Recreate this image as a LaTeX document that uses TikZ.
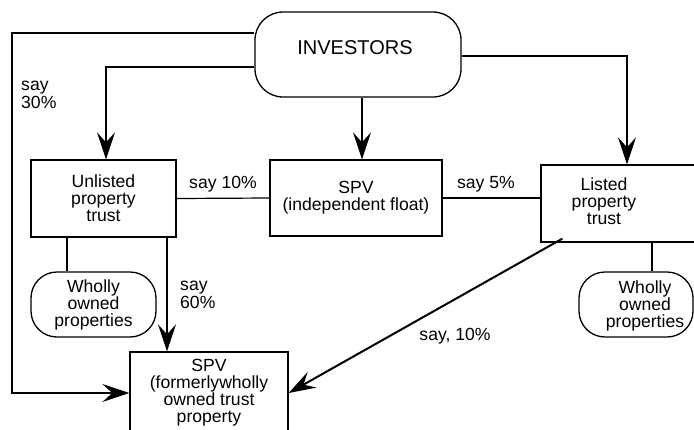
\documentclass[tikz,border=0pt]{standalone}
\usepackage{fontspec}
\setmainfont{Liberation Sans}
\usetikzlibrary{arrows.meta}
\begin{document}
\begin{tikzpicture}[x=1pt,y=-1pt,
  txt/.style={font=\fontsize{17.6}{17}\selectfont, align=center, inner sep=0pt},
  lbl/.style={font=\fontsize{17.6}{18}\selectfont, inner sep=0pt},
  sqbox/.style={draw, line width=1.3pt, rectangle, inner sep=0pt},
  rbox/.style={draw, line width=1.3pt, rectangle, rounded corners=26pt, inner sep=0pt},
  conn/.style={line width=1.2pt},
  arr/.style={line width=1.2pt, -{Stealth[length=27pt,width=18pt,inset=10pt]}},
  darr/.style={line width=2pt, -{Stealth[length=27pt,width=18pt,inset=10pt]}}]
\useasboundingbox (0,0) rectangle (694,429);
\clip (0,0) rectangle (694,429);
% boxes
\node[rbox, rounded corners=28pt, minimum width=206pt, minimum height=85pt] (inv) at (358,54.5) {};
\node[txt, font=\fontsize{20}{20}\selectfont] (invt) at (355,47.5) {INVESTORS};
\node[sqbox, txt, minimum width=145pt, minimum height=77pt] (unl) at (103.5,198.5) {Unlisted\\property\\trust};
\node[sqbox, txt, minimum width=172pt, minimum height=76pt] (spvf) at (356,198) {SPV\\(independent float)};
\node[sqbox, minimum width=159pt, minimum height=77pt] (lst) at (620.5,203.5) {};
\node[txt] (lstt) at (604,201) {Listed\\property\\trust};
\node[rbox, txt, minimum width=125pt, minimum height=65pt] (wol) at (93.5,304.5) {Wholly\\owned\\properties};
\node[rbox, minimum width=114pt, minimum height=65pt] (wor) at (636,304.5) {};
\node[txt] (wort) at (645,306) {Wholly\\owned\\properties};
\node[sqbox, txt, minimum width=158pt, minimum height=82pt] (spv2) at (209,393) {SPV\\(formerlywholly\\owned trust\\property};
% connectors
\coordinate (lft) at (12,393);
\draw[arr] ([yshift=21.5pt]inv.west) -| (lft) -- (spv2.west);
\draw[arr] ([yshift=-12.5pt]inv.west) -| ([xshift=2.5pt]unl.north);
\draw[arr] ([xshift=4pt]inv.south) -- ([xshift=4pt]inv.south |- spvf.north);
\draw[arr] ([yshift=-1.5pt]inv.east) -| ([xshift=6.5pt]lst.north);
\draw[conn] (unl.east) -- (spvf.west);
\draw[conn] (spvf.east) -- (spvf.east -| lst.west);
\draw[conn] ([xshift=-36.5pt]unl.south) -- ([xshift=-36.5pt]unl.south |- wol.north);
\draw[arr] ([xshift=63.5pt]unl.south) -- ([xshift=63.5pt]unl.south |- spv2.north);
\draw[darr] ([xshift=22pt,yshift=4pt]lst.south west) -- (spv2.east);
\draw[conn] ([xshift=31.5pt]lst.south) -- ([xshift=31.5pt]lst.south |- wor.north);
% labels
\node[lbl, align=left, anchor=west] (l30) at (21,95) {say\\30\%};
\node[lbl, align=left, anchor=west] (l60) at (180,295) {say\\60\%};
\node[lbl, anchor=base] (l10) at (223,188) {say 10\%};
\node[lbl, anchor=base] (l5) at (486,188) {say 5\%};
\node[lbl, anchor=base] (l10b) at (455,340) {say, 10\%};
\end{tikzpicture}
\end{document}
